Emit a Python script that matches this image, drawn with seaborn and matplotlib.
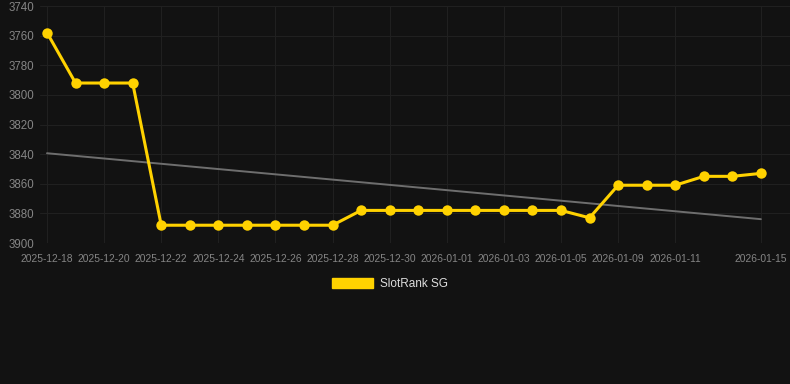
import numpy as np
import pandas as pd
import matplotlib
matplotlib.use("Agg")
import matplotlib.pyplot as plt
from matplotlib.patches import Patch
import seaborn as sns

dates = ["2025-12-18", "2025-12-19", "2025-12-20", "2025-12-21", "2025-12-22",
         "2025-12-23", "2025-12-24", "2025-12-25", "2025-12-26", "2025-12-27",
         "2025-12-28", "2025-12-29", "2025-12-30", "2025-12-31", "2026-01-01",
         "2026-01-02", "2026-01-03", "2026-01-04", "2026-01-05", "2026-01-07",
         "2026-01-09", "2026-01-10", "2026-01-11", "2026-01-12", "2026-01-13",
         "2026-01-15"]
ranks = [3758, 3792, 3792, 3792, 3888, 3888, 3888, 3888, 3888, 3888,
         3888, 3878, 3878, 3878, 3878, 3878, 3878, 3878, 3878, 3883,
         3861, 3861, 3861, 3855, 3855, 3853]
labeled_dates = ["2025-12-18", "2025-12-20", "2025-12-22", "2025-12-24",
                 "2025-12-26", "2025-12-28", "2025-12-30", "2026-01-01",
                 "2026-01-03", "2026-01-05", "2026-01-09", "2026-01-11",
                 "2026-01-15"]
y_ticks = [3740, 3760, 3780, 3800, 3820, 3840, 3860, 3880, 3900]
series_name = "SlotRank SG"

BG = "#121212"
YELLOW = "#FFD200"
GRID = "#202020"
TICK = "#858585"

sns.set_theme(style="dark", rc={
    "figure.facecolor": BG, "axes.facecolor": BG,
    "axes.edgecolor": BG, "grid.color": GRID,
})
plt.rcParams["font.family"] = ["Liberation Sans", "DejaVu Sans"]

df = pd.DataFrame({"idx": np.arange(len(dates)), "date": dates, "rank": ranks})

fig = plt.figure(figsize=(7.9, 3.84), dpi=100)
W, H = 790, 384
ax = fig.add_axes([40 / W, (384 - 243) / H, (790 - 40) / W, (243 - 6) / H])

# trend line from linear regression
coef = np.polyfit(df["idx"], df["rank"], 1)
trend = np.polyval(coef, df["idx"])
sns.lineplot(x=df["idx"], y=trend, ax=ax, color="#6e6e6e", linewidth=1.4, zorder=2)

sns.lineplot(data=df, x="idx", y="rank", ax=ax, color=YELLOW, linewidth=2.2,
             marker="o", markersize=7.5, markeredgewidth=0, zorder=3)

ax.set_ylim(3900, 3740)
ax.set_xlim(-0.245, 26.02)
ax.set_yticks(y_ticks)
ax.set_yticklabels([str(v) for v in y_ticks])
tick_pos = [dates.index(d) for d in labeled_dates]
ax.set_xticks(tick_pos)
ax.set_xticklabels(labeled_dates)
ax.grid(True, color=GRID, linewidth=0.8)
ax.tick_params(axis="y", colors=TICK, labelsize=8.3, length=0, pad=4)
ax.tick_params(axis="x", colors=TICK, labelsize=7.4, length=5, width=0.8,
               color=GRID, pad=3)
for lab in ax.get_yticklabels():
    lab.set_color(TICK)
for lab in ax.get_xticklabels():
    lab.set_color(TICK)
for s in ax.spines.values():
    s.set_visible(False)
ax.set_xlabel("")
ax.set_ylabel("")

handle = Patch(facecolor=YELLOW, edgecolor=YELLOW)
fig.legend([handle], [series_name], loc="center", bbox_to_anchor=(390 / W, 1 - 284 / H),
           frameon=False, fontsize=8.5, labelcolor="#dddddd",
           handlelength=3.4, handleheight=1.0, handletextpad=0.6)

fig.savefig("out.png", dpi=100, facecolor=BG)
